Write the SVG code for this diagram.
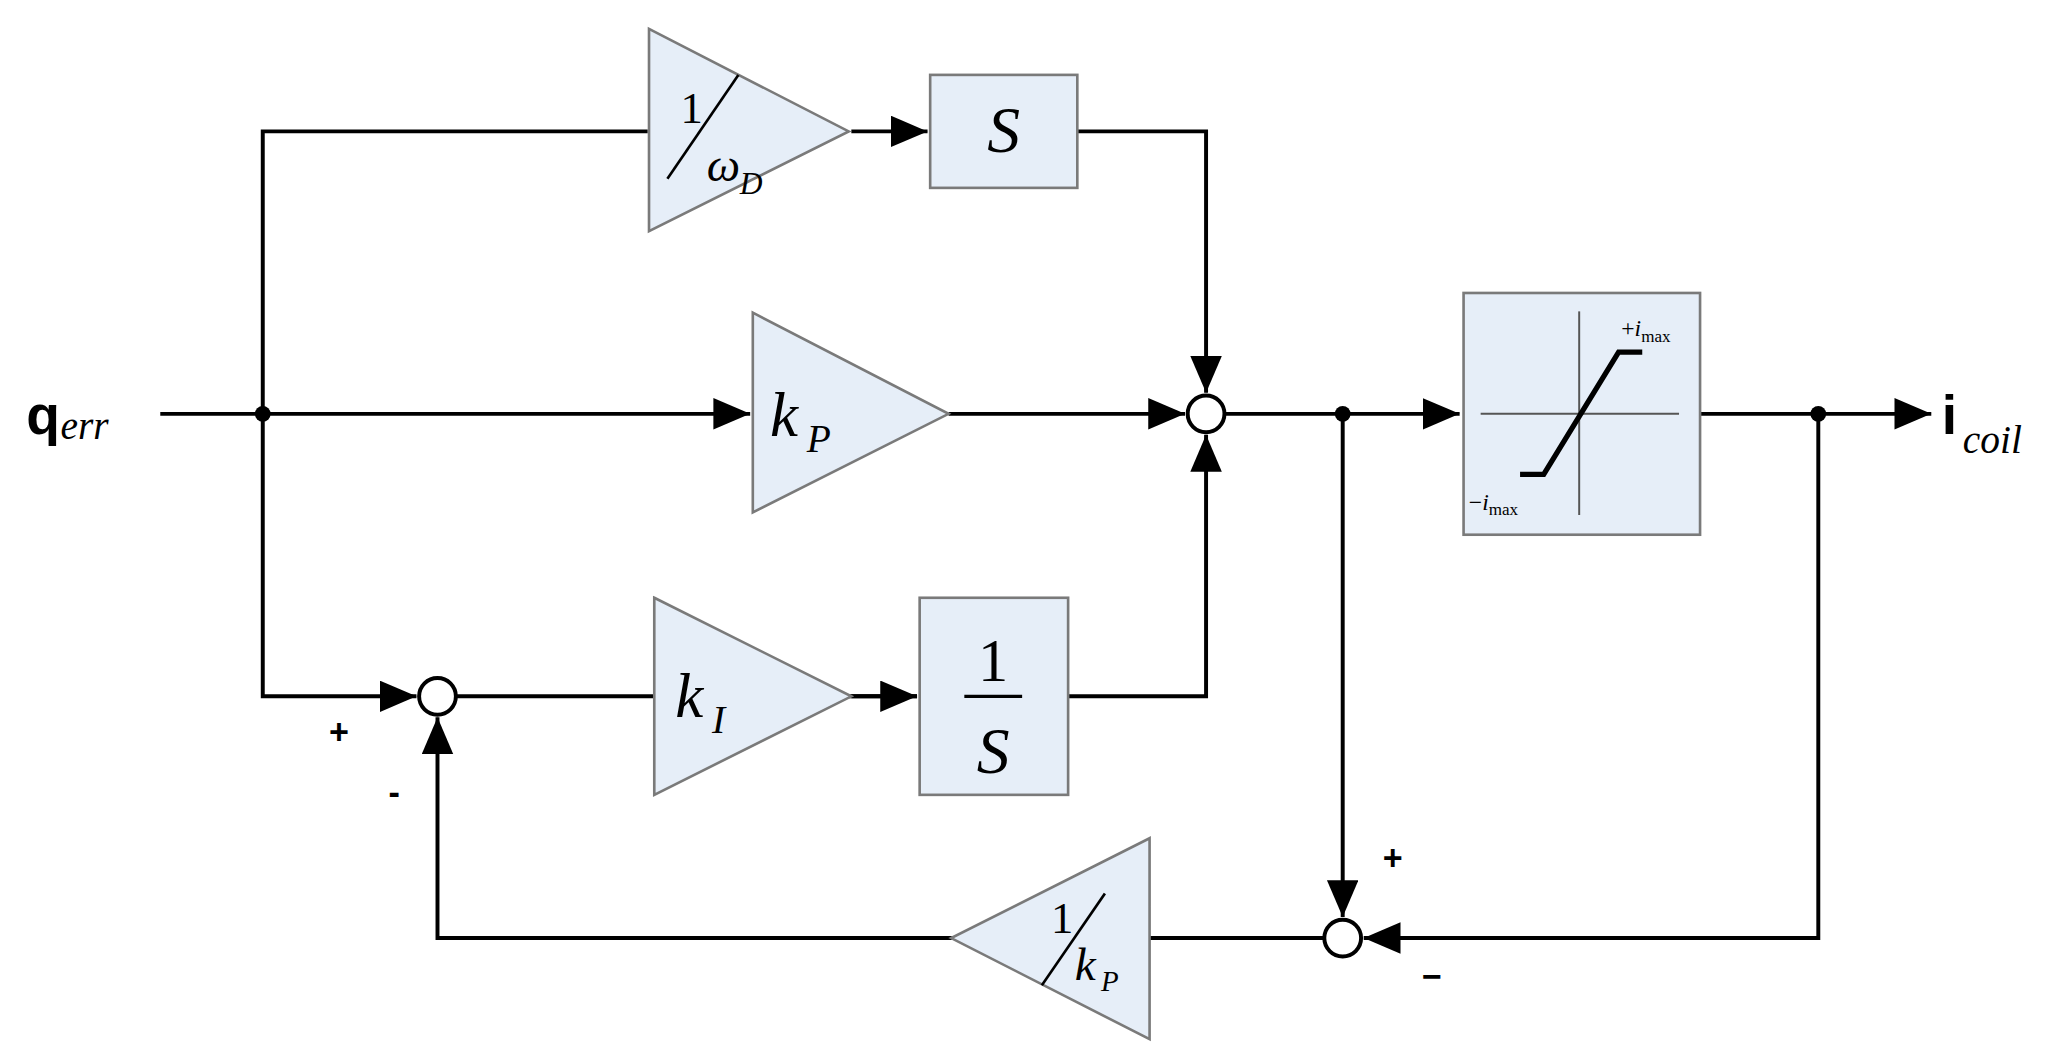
<svg xmlns="http://www.w3.org/2000/svg" width="2060" height="1064" viewBox="0 0 2060 1064">
<style>
.blk{fill:#e6eef8;stroke:#7a7a7a;stroke-width:2}
.ln{fill:none;stroke:#000;stroke-width:3}
.sum{fill:#fff;stroke:#000;stroke-width:3}
.t{font-family:"Liberation Serif",serif;font-style:italic;fill:#000}
.r{font-family:"Liberation Serif",serif;fill:#000}
.s{font-family:"Liberation Sans",sans-serif;font-weight:bold;fill:#000}
</style>
<defs>
<marker id="a" markerUnits="userSpaceOnUse" markerWidth="30" markerHeight="26" refX="28" refY="12" orient="auto"><path d="M0,0 L28,12 L0,24 z" fill="#000"/></marker>
</defs>
<rect width="2060" height="1064" fill="#fff"/>
<g transform="scale(1.3138)">
<g id="connectors">
<path class="ln" d="M122,315 H571" marker-end="url(#a)"/>
<path class="ln" d="M493,100 H200 V530 H317" marker-end="url(#a)"/>
<path class="ln" d="M722,315 H902" marker-end="url(#a)"/>
<path class="ln" d="M648,100 H706" marker-end="url(#a)"/>
<path class="ln" d="M820,100 H918 V299" marker-end="url(#a)"/>
<path class="ln" d="M813,530 H918 V331" marker-end="url(#a)"/>
<path class="ln" d="M347,530 H498"/>
<path class="ln" d="M648,530 H698"/>
<path class="ln" d="M640,530 H698" marker-end="url(#a)"/>
<path class="ln" d="M932,315 H1111" marker-end="url(#a)"/>
<path class="ln" d="M1022,315 V698" marker-end="url(#a)"/>
<path class="ln" d="M1293,315 H1470" marker-end="url(#a)"/>
<path class="ln" d="M1384,315 V714 H1038" marker-end="url(#a)"/>
<path class="ln" d="M1008,714 H724"/>
<path class="ln" d="M724,714 H333 V546" marker-end="url(#a)"/>
<circle cx="200" cy="315" r="6"/>
<circle cx="1022" cy="315" r="6"/>
<circle cx="1384" cy="315" r="6"/>
</g>
<g id="input"><text class="s" x="20" y="330" font-size="42">q</text><text class="t" x="46" y="334" font-size="30">err</text></g>
<g id="output"><text class="s" x="1478" y="330" font-size="42">i</text><text class="t" x="1494" y="345" font-size="30">coil</text></g>
<g id="gainD">
<polygon class="blk" points="494,22 646,100 494,176"/>
<text class="r" x="518" y="94" font-size="34">1</text>
<line x1="508" y1="136" x2="562" y2="57" stroke="#000" stroke-width="2"/>
<text class="t" x="538" y="138" font-size="36">ω</text><text class="t" x="563" y="148" font-size="24">D</text>
</g>
<g id="boxS"><rect class="blk" x="708" y="57" width="112" height="86"/><text class="t" x="764" y="116" font-size="50" text-anchor="middle">S</text></g>
<g id="gainP">
<polygon class="blk" points="573,238 722,315 573,390"/>
<text class="t" x="586" y="332" font-size="48">k</text><text class="t" x="614" y="344" font-size="30">P</text>
</g>
<g id="sum1"><circle class="sum" cx="918" cy="315" r="14"/></g>
<g id="sum2"><circle class="sum" cx="333" cy="530" r="14"/>
<text class="s" x="258" y="566" font-size="26" text-anchor="middle">+</text>
<text class="s" x="300" y="612" font-size="26" text-anchor="middle">-</text></g>
<g id="gainI">
<polygon class="blk" points="498,455 648,530 498,605"/>
<text class="t" x="514" y="546" font-size="48">k</text><text class="t" x="542" y="558" font-size="30">I</text>
</g>
<g id="integ"><rect class="blk" x="700" y="455" width="113" height="150"/>
<text class="r" x="756" y="518" font-size="46" text-anchor="middle">1</text>
<line x1="734" y1="530" x2="778" y2="530" stroke="#000" stroke-width="2.5"/>
<text class="t" x="756" y="588" font-size="50" text-anchor="middle">S</text></g>
<g id="sat"><rect class="blk" x="1114" y="223" width="180" height="184"/>
<line x1="1127" y1="315" x2="1278" y2="315" stroke="#555" stroke-width="1.5"/>
<line x1="1202" y1="237" x2="1202" y2="392" stroke="#555" stroke-width="1.5"/>
<polyline points="1157,361 1175,361 1232,268 1250,268" fill="none" stroke="#000" stroke-width="4"/>
<text class="r" x="1234" y="256" font-size="18">+<tspan font-style="italic">i</tspan><tspan font-size="13" dy="4">max</tspan></text>
<text class="r" x="1118" y="388" font-size="18">−<tspan font-style="italic">i</tspan><tspan font-size="13" dy="4">max</tspan></text>
</g>
<g id="sum3"><circle class="sum" cx="1022" cy="714" r="14"/>
<text class="s" x="1060" y="662" font-size="26" text-anchor="middle">+</text>
<text class="s" x="1090" y="752" font-size="26" text-anchor="middle">−</text></g>
<g id="gainInvP">
<polygon class="blk" points="875,638 724,714 875,791"/>
<text class="r" x="800" y="710" font-size="34">1</text>
<line x1="793" y1="750" x2="841" y2="680" stroke="#000" stroke-width="2"/>
<text class="t" x="818" y="746" font-size="36">k</text><text class="t" x="838" y="754" font-size="22">P</text>
</g>
</g>
</svg>
